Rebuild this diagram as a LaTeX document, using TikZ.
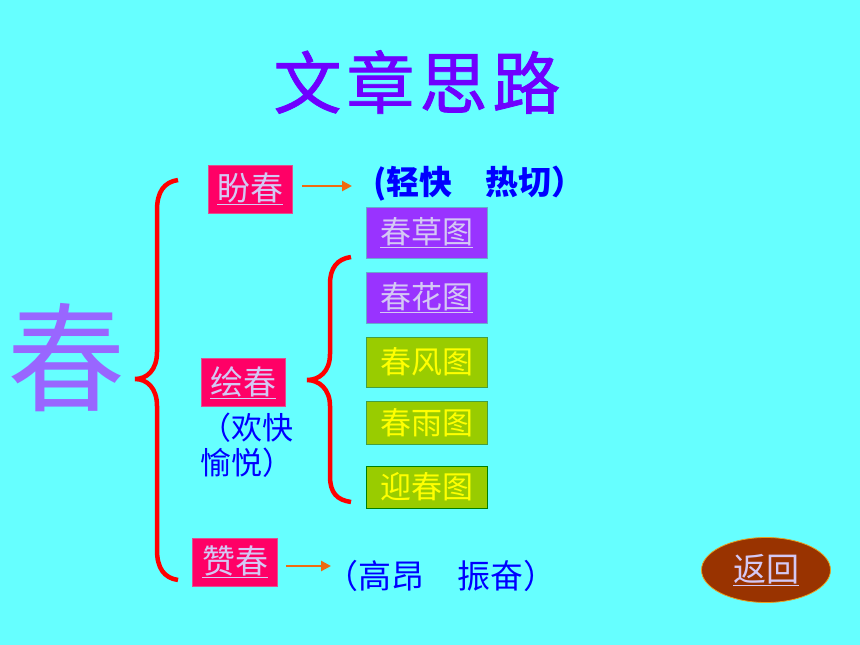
\documentclass[tikz,border=0pt]{standalone}
\usepackage{fontspec}
\newfontfamily\cjk{Noto Sans CJK SC}
\newfontfamily\cjktitle[FakeBold=1.2]{Noto Sans CJK SC}
\usetikzlibrary{arrows.meta,shapes.geometric}
\definecolor{bg}{HTML}{66FFFF}
\definecolor{titlec}{HTML}{6F00FF}
\definecolor{bigc}{HTML}{9966FF}
\definecolor{pinkfill}{HTML}{FF0066}
\definecolor{pinkedge}{HTML}{E05090}
\definecolor{lav}{HTML}{D4C8F4}
\definecolor{purfill}{HTML}{9933FF}
\definecolor{puredge}{HTML}{66AACC}
\definecolor{grnfill}{HTML}{99CC00}
\definecolor{grnedge}{HTML}{44A040}
\definecolor{yel}{HTML}{FFFF00}
\definecolor{bluet}{HTML}{0000FF}
\definecolor{arrc}{HTML}{F06A10}
\definecolor{bracec}{HTML}{FF0000}
\definecolor{brownf}{HTML}{993300}
\definecolor{brownedge}{HTML}{E8A020}
\tikzset{
  fs/.style={font=\cjk\fontsize{#1}{#1}\selectfont},
  pinkbox/.style={draw=pinkedge, fill=pinkfill, line width=0.8pt, inner sep=0pt,
    minimum width=84pt, minimum height=48pt, text=lav, fs=33},
  purbox/.style={draw=puredge, fill=purfill, line width=0.8pt, inner sep=0pt,
    minimum width=121pt, minimum height=51pt, text=lav, fs=31},
  grnbox/.style={draw=grnedge, fill=grnfill, line width=0.8pt, inner sep=0pt,
    minimum width=121pt, text=yel, fs=31},
  bluetext/.style={text=bluet, inner sep=0pt, fs=33},
  arr/.style={draw=arrc, line width=2.6pt, -{Triangle[length=10pt,width=10pt]}},
  bracestyle/.style={draw=bracec, line width=4.5pt},
}
\begin{document}
\begin{tikzpicture}[x=1pt,y=-1pt]
\fill[bg] (0,0) rectangle (860,645);
\useasboundingbox (0,0) rectangle (860,645);

% title
\node[text=titlec, inner sep=0pt, font=\cjktitle\fontsize{68}{68}\selectfont] (title) at (417,82)
  {文\hspace{5pt}章\hspace{5pt}思\hspace{5pt}路};

% big character
\node[text=bigc, fs=118, inner sep=0pt] (big) at (66,358) {春};

% outer brace
\draw[bracestyle] (178,180) .. controls (164,182) and (157,192) .. (157,210)
  -- (157,352) .. controls (157,370) and (147,379) .. (135,379)
  .. controls (147,379) and (157,388) .. (157,406)
  -- (157,550) .. controls (157,568) and (164,578) .. (178,580);

% inner brace
\draw[bracestyle] (351,257) .. controls (337,259) and (330,268) .. (330,284)
  -- (330,354) .. controls (330,372) and (319,380) .. (307,380)
  .. controls (319,380) and (330,389) .. (330,406)
  -- (330,476) .. controls (330,493) and (337,500) .. (351,502);

% left boxes
\node[pinkbox] (pan) at (250,189) {\underline{盼春}};
\node[pinkbox] (hui) at (243,382.5) {\underline{绘春}};
\node[pinkbox, minimum width=85pt] (zan) at (235,562) {\underline{赞春}};

% picture boxes
\node[purbox] (cao) at (426.5,232.5) {\underline{春草图}};
\node[purbox] (hua) at (426.5,297.5) {\underline{春花图}};
\node[grnbox, minimum height=50pt] (feng) at (426.5,362) {春风图};
\node[grnbox, minimum height=43pt] (yu) at (426.5,422.5) {春雨图};
\node[grnbox, minimum height=42pt, draw=green!50!black] (ying) at (426.5,487) {迎春图};

% arrows and texts
\coordinate (a1s) at (302,186);
\coordinate (a1e) at (352,186);
\draw[arr] (a1s) -- (a1e);
\node[bluetext, anchor=west, font=\cjk\bfseries\fontsize{33}{33}\selectfont] (t1) at (373,184) {(轻快　热切）};

\coordinate (a2s) at (286,566);
\coordinate (a2e) at (331,566);
\draw[arr] (a2s) -- (a2e);
\node[bluetext, anchor=west] (t2) at (325,576) {（高昂　振奋）};

\node[bluetext, anchor=north west, align=left, font=\cjk\fontsize{31}{35}\selectfont] (t3) at (200,413) {（欢快\\愉悦）};

% back button
\node[ellipse, draw=brownedge, fill=brownf, line width=0.8pt, minimum width=129pt,
  minimum height=65pt, inner sep=0pt, text=lav, fs=33] (back) at (766,570) {\underline{返回}};
\end{tikzpicture}
\end{document}
